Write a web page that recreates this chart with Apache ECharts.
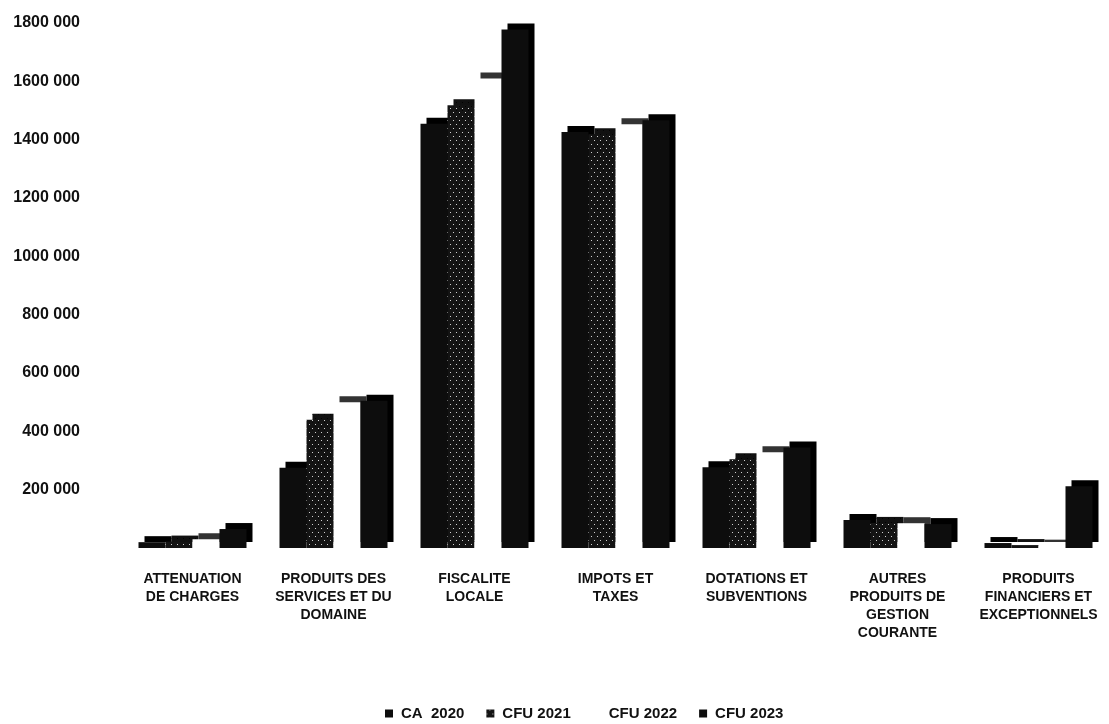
<!DOCTYPE html>
<html>
<head>
<meta charset="utf-8">
<script src="https://cdn.jsdelivr.net/npm/echarts@6/dist/echarts.min.js"></script>
<style>
  html, body { margin: 0; padding: 0; background: #fff; }
  #chart { width: 1109px; height: 724px; }
</style>
</head>
<body>
<div id="chart"></div>
<script>
// Recettes de fonctionnement par chapitre
const categories = [
  'ATTENUATION\nDE CHARGES',
  'PRODUITS DES\nSERVICES ET DU\nDOMAINE',
  'FISCALITE\nLOCALE',
  'IMPOTS ET\nTAXES',
  'DOTATIONS ET\nSUBVENTIONS',
  'AUTRES\nPRODUITS DE\nGESTION\nCOURANTE',
  'PRODUITS\nFINANCIERS ET\nEXCEPTIONNELS'
];
const seriesNames = ['CA  2020', 'CFU 2021', 'CFU 2022', 'CFU 2023'];
const ca2020  = [20000, 275000, 1455000, 1426000, 277000, 96000, 17000];
const cfu2021 = [22000, 440000, 1518000, 1419000, 304000, 86000, 10000];
const cfu2022 = [30000, 500000, 1610000, 1453000, 328000, 85000, 8000];
const cfu2023 = [65000, 505000, 1778000, 1467000, 345000, 82000, 212000];
const yTicks = { min: 0, max: 1800000, step: 200000 };

const font = '"Liberation Sans", Arial, sans-serif';

function fmt(v) {
  if (v === 0) return '';
  const s = String(v);
  return s.slice(0, s.length - 3) + ' ' + s.slice(-3);
}

// depth effect: an offset hard shadow gives each bar a side and a top
function depth(color) {
  return { shadowColor: color, shadowOffsetX: 6, shadowOffsetY: -6, shadowBlur: 0 };
}

const chart = echarts.init(document.getElementById('chart'), null, { renderer: 'canvas' });
chart.setOption({
  animation: false,
  backgroundColor: '#fff',
  textStyle: { fontFamily: font },
  grid: { left: 122, right: -22, top: 23, bottom: 176, containLabel: false },
  legend: {
    top: 701,
    left: 380,
    icon: 'rect',
    itemWidth: 8,
    itemHeight: 8,
    itemGap: 22,
    textStyle: { fontFamily: font, fontSize: 15, fontWeight: 'bold', color: '#111', padding: [0, 0, 0, 3] },
    data: seriesNames
  },
  xAxis: {
    type: 'category',
    data: categories,
    axisLine: { show: false },
    axisTick: { show: false },
    axisLabel: {
      interval: 0,
      margin: 22,
      fontFamily: font,
      fontSize: 14,
      fontWeight: 'bold',
      lineHeight: 18,
      color: '#111',
      align: 'center'
    }
  },
  yAxis: {
    type: 'value',
    min: yTicks.min,
    max: yTicks.max,
    interval: yTicks.step,
    axisLine: { show: false },
    axisTick: { show: false },
    splitLine: { show: false },
    axisLabel: {
      margin: 42,
      fontFamily: font,
      fontSize: 16,
      fontWeight: 'bold',
      color: '#111',
      formatter: fmt
    }
  },
  series: [
    {
      name: seriesNames[0], type: 'bar', data: ca2020,
      barWidth: 27, barGap: '0%',
      itemStyle: Object.assign({ color: '#0d0d0d' }, depth('#000'))
    },
    {
      name: seriesNames[1], type: 'bar', data: cfu2021,
      barWidth: 27, barGap: '0%',
      itemStyle: Object.assign({
        color: '#141414',
        decal: {
          symbol: 'rect', symbolSize: 1,
          color: 'rgba(255,255,255,0.8)',
          dashArrayX: [[1, 5], [0, 3, 1, 2]],
          dashArrayY: [1, 3],
          rotation: 0
        }
      }, depth('#111'))
    },
    {
      name: seriesNames[2], type: 'bar', data: cfu2022,
      barWidth: 27, barGap: '0%',
      itemStyle: Object.assign({ color: '#ffffff' }, depth('#333'))
    },
    {
      name: seriesNames[3], type: 'bar', data: cfu2023,
      barWidth: 27, barGap: '0%',
      itemStyle: Object.assign({ color: '#0d0d0d' }, depth('#000'))
    }
  ]
});
</script>
</body>
</html>
